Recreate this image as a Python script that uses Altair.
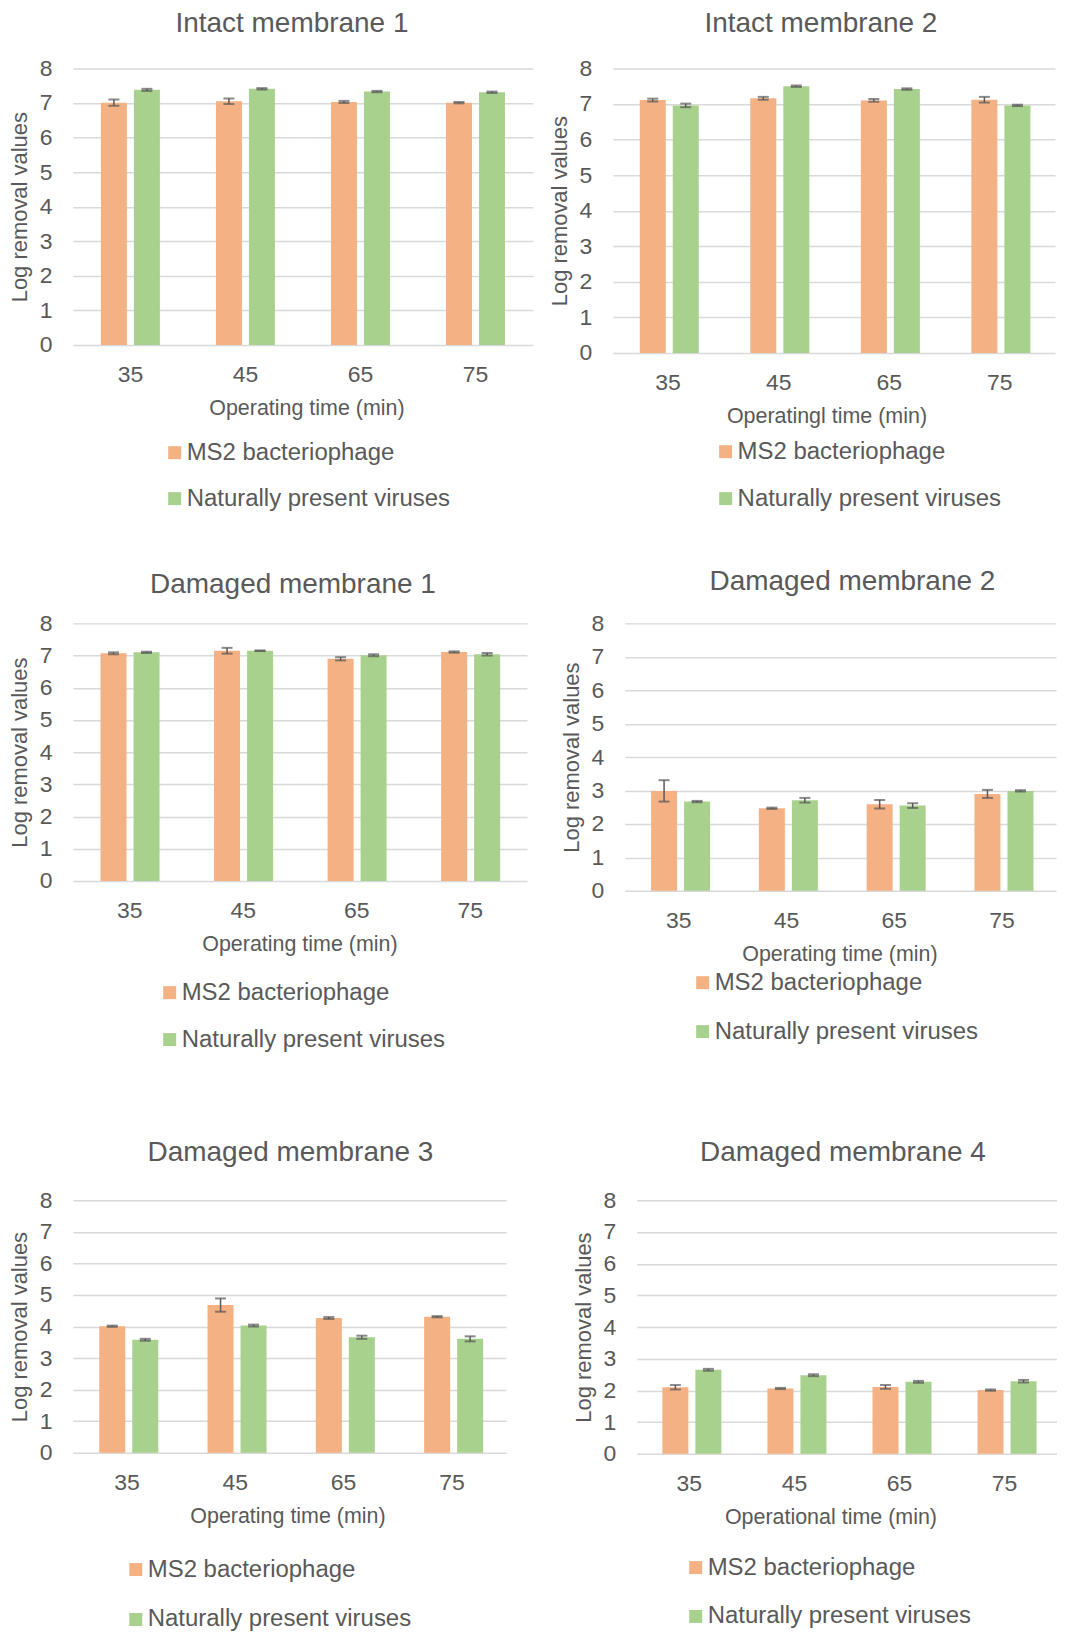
import altair as alt
import pandas as pd

TIMES = ["35", "45", "65", "75"]
SERIES = ["MS2 bacteriophage", "Naturally present viruses"]
COLORS = ["#F4B183", "#A9D18E"]

PANELS = ["Intact membrane 1", "Intact membrane 2", "Damaged membrane 1",
          "Damaged membrane 2", "Damaged membrane 3", "Damaged membrane 4"]
XTITLES = ["Operating time (min)", "Operatingl time (min)", "Operating time (min)",
           "Operating time (min)", "Operating time (min)", "Operational time (min)"]

# MS2 bacteriophage values and error (per panel, per time)
MS2_VAL = [
    [7.01, 7.05, 7.03, 7.01],
    [7.11, 7.16, 7.10, 7.12],
    [7.07, 7.15, 6.90, 7.11],
    [2.99, 2.47, 2.59, 2.90],
    [4.01, 4.68, 4.27, 4.31],
    [2.10, 2.06, 2.11, 2.01],
]
MS2_ERR = [
    [0.09, 0.08, 0.03, 0.02],
    [0.04, 0.04, 0.04, 0.08],
    [0.03, 0.09, 0.05, 0.02],
    [0.32, 0.02, 0.13, 0.12],
    [0.02, 0.21, 0.03, 0.02],
    [0.07, 0.02, 0.06, 0.02],
]
# Naturally present viruses values and error
NAT_VAL = [
    [7.38, 7.41, 7.33, 7.31],
    [6.96, 7.50, 7.42, 6.96],
    [7.10, 7.15, 7.01, 7.04],
    [2.67, 2.71, 2.55, 2.99],
    [3.58, 4.03, 3.66, 3.61],
    [2.65, 2.48, 2.27, 2.29],
]
NAT_ERR = [
    [0.03, 0.02, 0.02, 0.02],
    [0.05, 0.02, 0.02, 0.02],
    [0.02, 0.01, 0.03, 0.04],
    [0.02, 0.07, 0.07, 0.02],
    [0.03, 0.03, 0.05, 0.08],
    [0.03, 0.03, 0.03, 0.04],
]

rows = []
for p, name in enumerate(PANELS):
    for t, tm in enumerate(TIMES):
        for s, vals, errs in ((0, MS2_VAL, MS2_ERR), (1, NAT_VAL, NAT_ERR)):
            v = vals[p][t]
            e = errs[p][t]
            rows.append({"panel": name, "time": tm, "series": SERIES[s],
                         "value": v, "lo": v - e, "hi": v + e})
df = pd.DataFrame(rows)

TXT = "#595959"
FONT = "Liberation Sans"

# layout per panel
LAYOUT = [
    dict(w=461, h=277, tdx=-11, toff=-2, xtx=234, lx=90, ly=373, rp=22, ytp=7.5),
    dict(w=443, h=285, tdx=-13, toff=-2, xtx=214, lx=101, ly=372, rp=23, ytp=7.5),
    dict(w=455, h=258, tdx=-7, toff=-9, xtx=227, lx=85, ly=358, rp=23, ytp=7.5),
    dict(w=432, h=268, tdx=12, toff=-6, xtx=215, lx=66, ly=348, rp=25, ytp=7.5),
    dict(w=434, h=253, tdx=1, toff=0, xtx=215, lx=51, ly=358, rp=26, ytp=7.5),
    dict(w=421, h=254, tdx=-4, toff=0, xtx=194, lx=47, ly=356, rp=25, ytp=7.5),
]


def make_panel(i):
    L = LAYOUT[i]
    d = df[df["panel"] == PANELS[i]]
    yaxis = alt.Axis(title="Log removal values", values=list(range(9)), tickSize=0,
                     ticks=False, domain=False, labelPadding=21, titlePadding=L["ytp"],
                     labelFontSize=23, titleFontSize=22)
    yscale = alt.Scale(domain=[0, 8], nice=False)
    base = alt.Chart(d).encode(
        x=alt.X("time:N", sort=TIMES,
                scale=alt.Scale(paddingInner=0.487, paddingOuter=0.2435),
                axis=alt.Axis(title=XTITLES[i], labelAngle=0, ticks=False, tickSize=0,
                              domain=False, grid=False, labelPadding=19, titlePadding=11,
                              labelFontSize=23, titleFontSize=21.5, titleX=L["xtx"])),
        xOffset=alt.XOffset("series:N", sort=SERIES,
                            scale=alt.Scale(paddingInner=0.212, paddingOuter=0)),
    )
    bars = base.mark_bar().encode(
        y=alt.Y("value:Q", scale=yscale, axis=yaxis),
        color=alt.Color("series:N", sort=SERIES,
                        scale=alt.Scale(domain=SERIES, range=COLORS),
                        legend=alt.Legend(title=None, orient="none", legendX=L["lx"],
                                          legendY=L["ly"], direction="vertical",
                                          symbolType="square", symbolSize=169,
                                          symbolStrokeWidth=0, labelFontSize=24,
                                          labelColor=TXT, labelFont=FONT,
                                          rowPadding=L["rp"], padding=0, labelOffset=0,
                                          labelLimit=400)),
    )
    rule = base.mark_rule(color="#595959", strokeWidth=1.5).encode(
        y=alt.Y("lo:Q", scale=yscale, axis=yaxis), y2="hi:Q")
    cap_lo = base.mark_tick(color="#595959", size=11, thickness=2).encode(
        y=alt.Y("lo:Q", scale=yscale, axis=yaxis))
    cap_hi = base.mark_tick(color="#595959", size=11, thickness=2).encode(
        y=alt.Y("hi:Q", scale=yscale, axis=yaxis))
    return alt.layer(bars, rule, cap_lo, cap_hi).properties(
        width=L["w"], height=L["h"],
        title=alt.TitleParams(PANELS[i], dx=L["tdx"], offset=L["toff"], frame="group",
                              baseline="alphabetic", fontSize=28, color=TXT,
                              fontWeight="normal", font=FONT),
    )


p = [make_panel(i) for i in range(6)]
row1 = alt.hconcat(p[0], p[1], spacing=80, bounds="flush").resolve_scale(color="independent")
row2 = alt.hconcat(p[2], p[3], spacing=98, bounds="flush").resolve_scale(color="independent")
row3 = alt.hconcat(p[4], p[5], spacing=131, bounds="flush").resolve_scale(color="independent")

top = alt.vconcat(row1, row2, spacing=58).resolve_scale(color="independent")

chart = alt.vconcat(top, row3, spacing=88).resolve_scale(
    color="independent"
).properties(padding=0).configure(font=FONT).configure_axis(
    gridColor="#D9D9D9", gridWidth=1.5, labelColor=TXT, titleColor=TXT,
    labelFont=FONT, titleFont=FONT, titleFontWeight="normal"
).configure_view(stroke=None)

chart.save("out.html", embed_options={"renderer": "svg", "actions": False})
